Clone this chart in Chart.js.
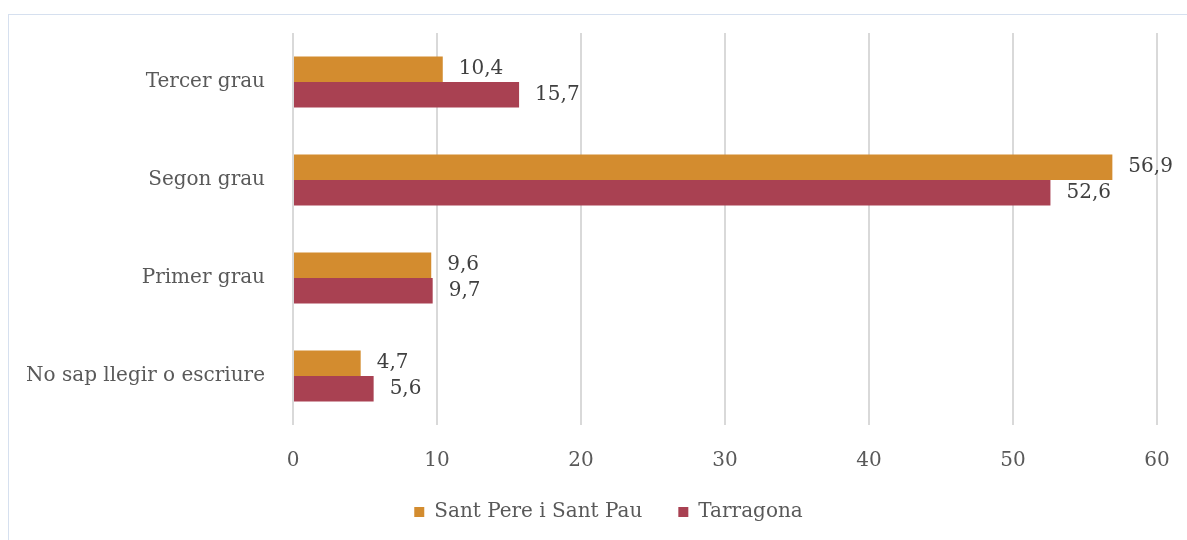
<!DOCTYPE html>
<html>
<head>
<meta charset="utf-8">
<script src="https://cdn.jsdelivr.net/npm/chart.js@4"></script>
<style>
  html, body { margin: 0; padding: 0; background: #fff; }
  #wrap { position: relative; width: 1187px; height: 540px; }
</style>
</head>
<body>
<div id="wrap"><canvas id="c" width="1187" height="540"></canvas></div>
<script>
const categories = ['Tercer grau', 'Segon grau', 'Primer grau', 'No sap llegir o escriure'];
const seriesNames = ['Sant Pere i Sant Pau', 'Tarragona'];
const santPereValues = [10.4, 56.9, 9.6, 4.7];
const tarragonaValues = [15.7, 52.6, 9.7, 5.6];
const xTicks = [0, 10, 20, 30, 40, 50, 60];

const FONT = 'DejaVu Serif';
const fmt = v => v.toFixed(1).replace('.', ',');

const borderPlugin = {
  id: 'frame',
  afterLayout(chart) {
    if (chart.legend) {
      chart.legend.left += 30;
      chart.legend.right += 30;
    }
  },
  beforeDraw(chart) {
    const ctx = chart.ctx;
    ctx.save();
    ctx.fillStyle = '#fff';
    ctx.fillRect(0, 0, chart.width, chart.height);
    ctx.strokeStyle = '#D6E0EF';
    ctx.lineWidth = 1;
    ctx.strokeRect(8.5, 14.5, chart.width, chart.height);
    ctx.restore();
  }
};

const labelPlugin = {
  id: 'valueLabels',
  afterDatasetsDraw(chart) {
    const ctx = chart.ctx;
    ctx.save();
    ctx.font = '20px "' + FONT + '"';
    ctx.fillStyle = '#404040';
    ctx.textAlign = 'left';
    ctx.textBaseline = 'middle';
    chart.data.datasets.forEach((ds, di) => {
      const meta = chart.getDatasetMeta(di);
      meta.data.forEach((bar, i) => {
        ctx.fillText(fmt(ds.data[i]), bar.x + 16, bar.y);
      });
    });
    ctx.restore();
  }
};

new Chart(document.getElementById('c'), {
  type: 'bar',
  data: {
    labels: categories,
    datasets: [
      { label: seriesNames[0], data: santPereValues, backgroundColor: '#D38C2F', barPercentage: 1, categoryPercentage: 0.52 },
      { label: seriesNames[1], data: tarragonaValues, backgroundColor: '#A94152', barPercentage: 1, categoryPercentage: 0.52 }
    ]
  },
  options: {
    indexAxis: 'y',
    responsive: false,
    animation: false,
    layout: { padding: { left: 0, right: 30, top: 33, bottom: 8 } },
    scales: {
      x: {
        min: 0, max: 60,
        afterBuildTicks(scale) { scale.ticks = xTicks.map(v => ({ value: v })); },
        afterFit(scale) {
          scale.height = 41;
          scale.paddingLeft = 0; scale.paddingRight = 0; scale.paddingTop = 0; scale.paddingBottom = 0;
        },
        grid: { color: '#D9D9D9', lineWidth: 2, drawTicks: false },
        border: { display: false },
        ticks: { padding: 24, color: '#595959', font: { family: FONT, size: 20 } }
      },
      y: {
        afterFit(scale) {
          scale.width = 293;
          scale.paddingLeft = 0; scale.paddingRight = 0; scale.paddingTop = 0; scale.paddingBottom = 0;
        },
        grid: { display: false, drawTicks: false },
        border: { display: false },
        ticks: { padding: 28, color: '#595959', font: { family: FONT, size: 20 } }
      }
    },
    plugins: {
      legend: {
        position: 'bottom',
        labels: { boxWidth: 10, boxHeight: 10, padding: 36, color: '#595959', font: { family: FONT, size: 20 } }
      },
      tooltip: { enabled: false }
    }
  },
  plugins: [borderPlugin, labelPlugin]
});
</script>
</body>
</html>
